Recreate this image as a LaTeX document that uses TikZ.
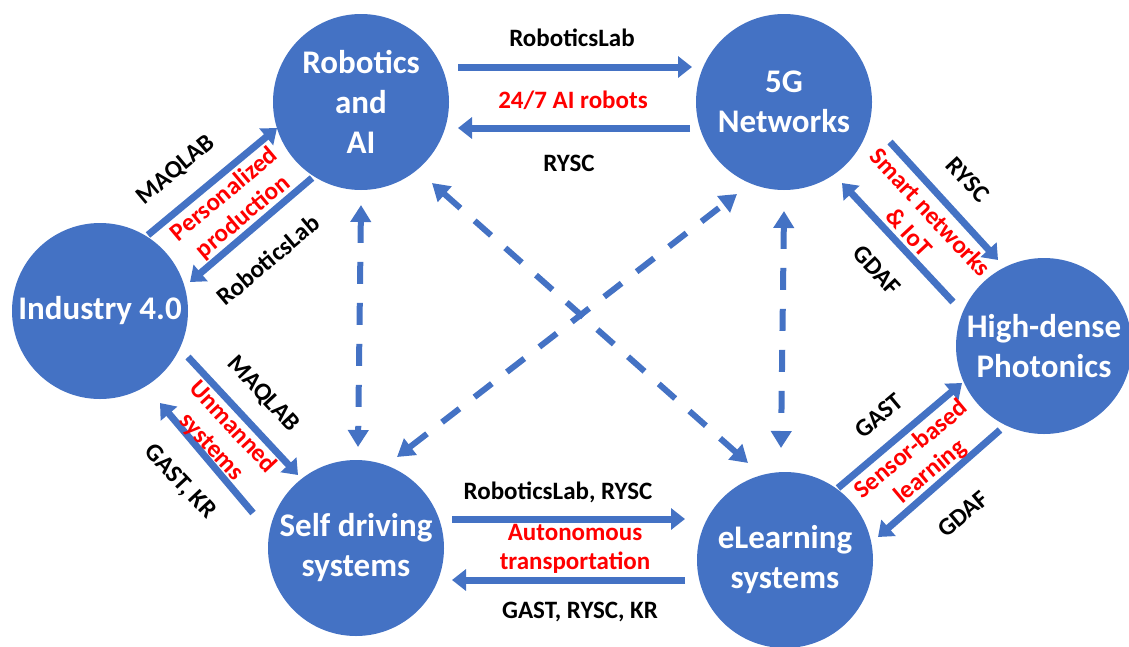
\documentclass[tikz,border=0pt]{standalone}
\usepackage{fontspec}
\setmainfont{Carlito}
\usetikzlibrary{arrows.meta}
\definecolor{pblue}{HTML}{4472C4}
\definecolor{pred}{HTML}{FF0000}
\tikzset{
  hub/.style={circle, fill=pblue, minimum size=176pt, inner sep=0pt, text=white,
    font=\fontsize{33}{40}\selectfont\bfseries, align=center},
  blk/.style={draw=pblue, line width=7pt, -{Triangle[width=21pt,length=14pt]}},
  dsh/.style={draw=pblue, line width=6pt, dash pattern=on 22pt off 19pt,
    {Triangle[width=20pt,length=17pt]}-{Triangle[width=20pt,length=17pt]}},
  lab/.style={font=\fontsize{25}{29}\selectfont\bfseries, inner sep=0pt, align=center},
  rlab/.style={lab, text=pred},
}
\begin{document}
\begin{tikzpicture}[x=1pt,y=-1pt]
\useasboundingbox (0,0) rectangle (1129,646);
% hubs
\node[hub] (rob) at (361,102) {Robotics\\and\\AI};
\node[hub] (fiveg) at (784,102) {5G\\Networks};
\node[hub] (ind) at (100,311) {Industry 4.0};
\node[hub] (pho) at (1044,346) {High-dense\\Photonics};
\node[hub] (sdr) at (356,548) {Self driving\\systems};
\node[hub] (elr) at (785,560) {eLearning\\systems};
% arrow end points
\coordinate (a1s) at (458,67);   \coordinate (a1e) at (692,67);
\coordinate (a2s) at (690,128);  \coordinate (a2e) at (458,128);
\coordinate (a3s) at (148,235);  \coordinate (a3e) at (277,128);
\coordinate (a4s) at (312,178);  \coordinate (a4e) at (190,282);
\coordinate (a5s) at (188,357);  \coordinate (a5e) at (298,475);
\coordinate (a6s) at (253,513);  \coordinate (a6e) at (160,403);
\coordinate (a7s) at (890,142);  \coordinate (a7e) at (998,260);
\coordinate (a8s) at (953,302);  \coordinate (a8e) at (842,183);
\coordinate (a9s) at (838,488);  \coordinate (a9e) at (962,383);
\coordinate (a10s) at (1000,430); \coordinate (a10e) at (878,537);
\coordinate (a11s) at (452,519); \coordinate (a11e) at (685,519);
\coordinate (a12s) at (685,580); \coordinate (a12e) at (452,580);
\coordinate (d1s) at (361,205);  \coordinate (d1e) at (358,447);
\coordinate (d2s) at (784,211);  \coordinate (d2e) at (781,448);
\coordinate (d3s) at (432,183);  \coordinate (d3e) at (748,463);
\coordinate (d4s) at (397,457);  \coordinate (d4e) at (737,194);
% solid arrows
\draw[blk] (a1s) -- (a1e);
\draw[blk] (a2s) -- (a2e);
\draw[blk] (a3s) -- (a3e);
\draw[blk] (a4s) -- (a4e);
\draw[blk] (a5s) -- (a5e);
\draw[blk] (a6s) -- (a6e);
\draw[blk] (a7s) -- (a7e);
\draw[blk] (a8s) -- (a8e);
\draw[blk] (a9s) -- (a9e);
\draw[blk] (a10s) -- (a10e);
\draw[blk] (a11s) -- (a11e);
\draw[blk] (a12s) -- (a12e);
% dashed arrows
\draw[dsh] (d1s) -- (d1e);
\draw[dsh] (d2s) -- (d2e);
\draw[dsh] (d3s) -- (d3e);
\draw[dsh] (d4s) -- (d4e);
% labels top
\node[lab] (l1) at (572,38) {RoboticsLab};
\node[rlab] (l2) at (573,100) {24/7 AI robots};
\node[lab] (l3) at (569,163) {RYSC};
% upper left
\node[lab, rotate=40] (l4) at (176,170) {MAQLAB};
\node[rlab, rotate=40] (l5) at (234,206) {Personalized\\production};
\node[lab, rotate=40] (l6) at (268,260) {RoboticsLab};
% lower left
\node[lab, rotate=-47] (l7) at (263,394) {MAQLAB};
\node[rlab, rotate=-47] (l8) at (222,437) {Unmanned\\systems};
\node[lab, rotate=-47] (l9) at (180,482) {GAST, KR};
% upper right
\node[lab, rotate=-47] (l10) at (968,180) {RYSC};
\node[rlab, rotate=-47] (l11) at (920,222) {Smart networks\\\& IoT};
\node[lab, rotate=-47] (l12) at (877,270) {GDAF};
% lower right
\node[lab, rotate=40] (l13) at (879,416) {GAST};
\node[rlab, rotate=40] (l14) at (921,461) {Sensor-based\\learning};
\node[lab, rotate=40] (l15) at (963,514) {GDAF};
% bottom
\node[lab] (l16) at (558,492) {RoboticsLab, RYSC};
\node[rlab] (l17) at (575,549) {Autonomous\\transportation};
\node[lab] (l18) at (580,612) {GAST, RYSC, KR};
\end{tikzpicture}
\end{document}
